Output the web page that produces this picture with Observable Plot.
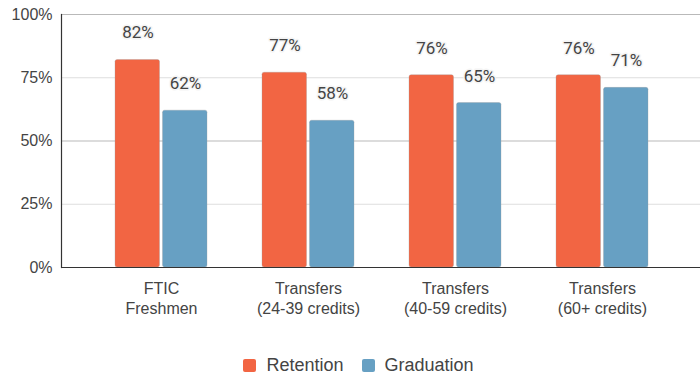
<!DOCTYPE html>
<html>
<head>
<meta charset="utf-8">
<script src="https://cdn.jsdelivr.net/npm/d3@7"></script>
<script src="https://cdn.jsdelivr.net/npm/@observablehq/plot@0.6"></script>
<style>
  html, body { margin: 0; padding: 0; background: #fff; }
  #chart { width: 700px; }
  .legend { display: flex; justify-content: center; align-items: center; height: 37px; margin-top: 7px; padding-left: 17px; box-sizing: border-box;
    font-family: "Liberation Sans", Arial, sans-serif; font-size: 18px; color: #444; }
  .legend .item { display: flex; align-items: center; margin: 0 9px; }
  .legend .sw { width: 13px; height: 13px; border-radius: 2px; margin-right: 10px; }
</style>
</head>
<body>
<div id="chart"></div>
<script>
const categories = ["FTIC\nFreshmen", "Transfers\n(24-39 credits)", "Transfers\n(40-59 credits)", "Transfers\n(60+ credits)"];
const series = ["Retention", "Graduation"];
const retention = [82, 77, 76, 76];
const graduation = [62, 58, 65, 71];
const colors = ["#f26543", "#67a0c3"];
const yTicks = [0, 25, 50, 75, 100];
const majorGrid = [50, 100];
const minorGrid = [25, 75];

const data = [];
categories.forEach((c, i) => {
  data.push({category: c, series: "Retention", value: retention[i]});
  data.push({category: c, series: "Graduation", value: graduation[i]});
});
const ret = data.filter(d => d.series === "Retention");
const grad = data.filter(d => d.series === "Graduation");

const chart = Plot.plot({
  width: 700,
  height: 340,
  marginTop: 14,
  marginBottom: 73,
  marginLeft: 61,
  marginRight: 0,
  style: {fontFamily: "'Liberation Sans', Arial, sans-serif", fontSize: "16px", color: "#444", background: "#fff"},
  x: {domain: categories, paddingInner: 0.372, paddingOuter: 0.349, align: 0.514, label: null},
  y: {domain: [0, 100], label: null},
  color: {domain: series, range: colors},
  marks: [
    Plot.ruleY(minorGrid, {stroke: "#dedede", strokeWidth: 1}),
    Plot.ruleY(majorGrid, {stroke: "#b9b9b9", strokeWidth: 1}),
    Plot.barY(ret, {x: "category", y: "value", fill: "series", insetRight: 47.5, rx: 2, stroke: "#999", strokeOpacity: 0.3, strokeWidth: 1}),
    Plot.barY(grad, {x: "category", y: "value", fill: "series", insetLeft: 47.5, rx: 2, stroke: "#999", strokeOpacity: 0.3, strokeWidth: 1}),
    Plot.text(ret, {x: "category", y: "value", text: d => d.value + "%", dx: -23.5, dy: -27,
      fontFamily: "Roboto, sans-serif", fontSize: 17, fill: "#444", stroke: "#f4f4f4", strokeWidth: 3}),
    Plot.text(grad, {x: "category", y: "value", text: d => d.value + "%", dx: 24, dy: -27,
      fontFamily: "Roboto, sans-serif", fontSize: 17, fill: "#444", stroke: "#f4f4f4", strokeWidth: 3}),
    Plot.frame({anchor: "left", stroke: "#333", strokeWidth: 1.2}),
    Plot.ruleY([0], {stroke: "#333", strokeWidth: 1.2}),
    Plot.axisY({ticks: yTicks, tickSize: 0, tickPadding: 9, tickFormat: d => d + "%", fontSize: 16, fill: "#444", label: null}),
    Plot.axisX({tickSize: 0, tickPadding: 12, fontSize: 16, fill: "#444", lineHeight: 1.25, label: null})
  ]
});
document.getElementById("chart").appendChild(chart);

const legend = document.createElement("div");
legend.className = "legend";
series.forEach((s, i) => {
  const item = document.createElement("div");
  item.className = "item";
  const sw = document.createElement("div");
  sw.className = "sw";
  sw.style.background = colors[i];
  const t = document.createElement("span");
  t.textContent = s;
  item.appendChild(sw); item.appendChild(t);
  legend.appendChild(item);
});
document.getElementById("chart").appendChild(legend);
</script>
</body>
</html>
